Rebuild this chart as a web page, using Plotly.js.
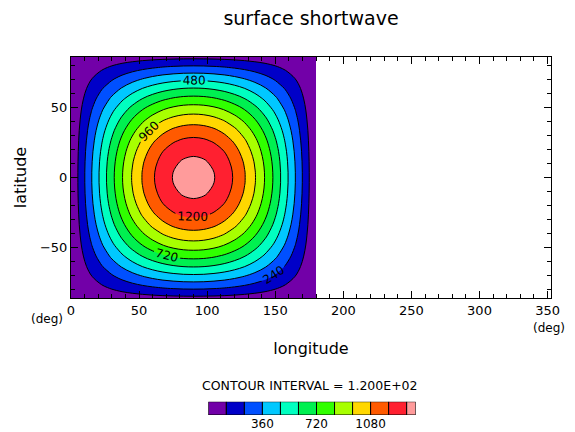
<!DOCTYPE html>
<html><head><meta charset="utf-8">
<script src="https://cdn.plot.ly/plotly-3.0.1.min.js"></script>
<style>html,body{margin:0;padding:0;background:#fff}#chart{width:575px;height:432px}</style>
</head><body><div id="chart"></div>
<script>
// Longitudes (deg) and latitudes (deg) of the data grid
const lon = [0,7.5,15,22.5,30,37.5,45,52.5,60,67.5,75,82.5,90,97.5,105,112.5,120,127.5,135,142.5,150,157.5,165,172.5,180];
const lat = [-86.25,-78.75,-71.25,-63.75,-56.25,-48.75,-41.25,-33.75,-26.25,-18.75,-11.25,-3.75,3.75,11.25,18.75,26.25,33.75,41.25,48.75,56.25,63.75,71.25,78.75,86.25];

// Surface shortwave (W/m2) rows, one per |latitude|
const r03 = [0,178,354,523,684,832,967,1085,1184,1263,1320,1355,1367,1355,1320,1263,1184,1085,967,832,684,523,354,178,0];
const r11 = [0,175,348,514,672,818,950,1066,1164,1241,1298,1332,1344,1332,1298,1241,1164,1066,950,818,672,514,348,175,0];
const r18 = [0,169,336,496,649,790,917,1029,1124,1199,1253,1286,1297,1286,1253,1199,1124,1029,917,790,649,496,336,169,0];
const r26 = [0,160,318,470,614,748,869,975,1064,1135,1187,1218,1229,1218,1187,1135,1064,975,869,748,614,470,318,160,0];
const r33 = [0,149,295,436,570,693,805,904,987,1052,1100,1129,1139,1129,1100,1052,987,904,805,693,570,436,295,149,0];
const r41 = [0,134,267,394,515,627,728,817,892,952,995,1021,1030,1021,995,952,892,817,728,627,515,394,267,134,0];
const r48 = [0,118,234,346,452,550,639,717,782,835,873,896,903,896,873,835,782,717,639,550,452,346,234,118,0];
const r56 = [0,99,197,291,381,463,538,604,659,703,735,755,761,755,735,703,659,604,538,463,381,291,197,99,0];
const r63 = [0,79,157,232,303,369,428,481,525,560,585,601,606,601,585,560,525,481,428,369,303,232,157,79,0];
const r71 = [0,57,114,169,220,268,311,349,381,407,425,437,440,437,425,407,381,349,311,268,220,169,114,57,0];
const r78 = [0,35,69,102,134,163,189,212,231,247,258,265,267,265,258,247,231,212,189,163,134,102,69,35,0];
const r86 = [0,12,23,34,45,55,63,71,78,83,87,89,90,89,87,83,78,71,63,55,45,34,23,12,0];
const swRows = [r86,r78,r71,r63,r56,r48,r41,r33,r26,r18,r11,r03,r03,r11,r18,r26,r33,r41,r48,r56,r63,r71,r78,r86];

// Contour levels and band colours
const levelStart = 120, levelEnd = 1320, levelStep = 120;
const labelStart = 240, labelEnd = 1200, labelStep = 240;
const bandColors = ['#7200a8','#0000c8','#0050ff','#00c8ff','#00ffc0','#00f050','#30ff00','#a8ff00','#ffd700','#ff5a00','#ff2030','#ff9b9b'];
const barEdges = [0,120,240,360,480,600,720,840,960,1080,1200,1320,1380];
const barTicks = [360,720,1080];
const xTicks = [0,50,100,150,200,250,300,350];
const yTicks = [-50,0,50];

const W = 575, H = 432;
const nb = bandColors.length - 1;
const cscale = bandColors.map((c, k) => [k / nb, c]);

const FONT = 'DejaVu Sans, sans-serif';

const fill = {
  type: 'contour', x: lon, y: lat, z: swRows,
  autocontour: false,
  contours: {start: levelStart, end: levelEnd, size: levelStep, coloring: 'fill', showlines: false},
  colorscale: cscale, showscale: false, line: {width: 0, smoothing: 1}, hoverinfo: 'skip'
};
const oddLines = {
  type: 'contour', x: lon, y: lat, z: swRows,
  autocontour: false,
  contours: {start: levelStart, end: levelEnd, size: labelStep, coloring: 'none'},
  line: {color: '#000', width: 1, smoothing: 1}, showscale: false, hoverinfo: 'skip'
};
const labelled = {
  type: 'contour', x: lon, y: lat, z: swRows,
  autocontour: false,
  contours: {start: labelStart, end: labelEnd, size: labelStep, coloring: 'none', showlabels: true,
             labelfont: {family: FONT, size: 12, color: '#000'}, labelformat: '.0f'},
  line: {color: '#000', width: 1, smoothing: 1}, showscale: false, hoverinfo: 'skip'
};

const centers = [], widths = [];
for (let i = 0; i < barEdges.length - 1; i++) {
  centers.push((barEdges[i] + barEdges[i + 1]) / 2);
  widths.push(barEdges[i + 1] - barEdges[i]);
}
const bar = {
  type: 'bar', x: centers, y: centers.map(() => 1), width: widths, base: 0,
  marker: {color: bandColors, line: {color: '#000', width: 1}},
  xaxis: 'x2', yaxis: 'y2', hoverinfo: 'skip', cliponaxis: false
};

const axCommon = {
  ticks: 'inside', ticklen: 7, tickwidth: 1, tickcolor: '#000',
  showline: true, linecolor: '#000', linewidth: 1, mirror: 'ticks',
  showgrid: false, zeroline: false,
  tickfont: {family: FONT, size: 13, color: '#000'},
  minor: {dtick: 10, ticks: 'inside', ticklen: 4, tickcolor: '#000', showgrid: false}
};

const layout = {
  width: W, height: H, margin: {l: 0, r: 0, t: 0, b: 0},
  paper_bgcolor: '#fff', plot_bgcolor: '#fff', showlegend: false,
  font: {family: FONT, color: '#000', size: 13},
  title: {text: 'surface shortwave', xref: 'container', yref: 'container', x: 311 / W, y: 1 - 18 / H,
          xanchor: 'center', yanchor: 'middle', font: {family: FONT, size: 19, color: '#000'}},
  xaxis: Object.assign({}, axCommon, {
    domain: [71 / W, 551 / W], range: [0, 352.5], tickvals: xTicks, anchor: 'y',
    title: {text: 'longitude', standoff: 26, font: {family: FONT, size: 16, color: '#000'}}
  }),
  yaxis: Object.assign({}, axCommon, {
    domain: [(H - 298) / H, (H - 57) / H], range: [-86.25, 86.25], tickvals: yTicks, anchor: 'x',
    title: {text: 'latitude', standoff: 9, font: {family: FONT, size: 16, color: '#000'}}
  }),
  xaxis2: {domain: [208.3 / W, 415.7 / W], range: [0, 1380], anchor: 'y2', tickvals: barTicks,
           ticks: '', showline: false, showgrid: false, zeroline: false,
           tickfont: {family: FONT, size: 12, color: '#000'}},
  yaxis2: {domain: [(H - 415) / H, (H - 401.7) / H], range: [0, 1], anchor: 'x2', visible: false, fixedrange: true},
  annotations: [
    {text: '(deg)', xref: 'paper', yref: 'paper', x: 47 / W, y: 1 - 319 / H, xanchor: 'center', yanchor: 'middle',
     showarrow: false, font: {family: FONT, size: 12, color: '#000'}},
    {text: '(deg)', xref: 'paper', yref: 'paper', x: 549 / W, y: 1 - 327.5 / H, xanchor: 'center', yanchor: 'middle',
     showarrow: false, font: {family: FONT, size: 12, color: '#000'}},
    {text: 'CONTOUR INTERVAL = 1.200E+02', xref: 'paper', yref: 'paper', x: 310 / W, y: 1 - 385 / H,
     xanchor: 'center', yanchor: 'middle', showarrow: false, font: {family: FONT, size: 12.5, color: '#000'}}
  ]
};

Plotly.newPlot('chart', [fill, oddLines, labelled, bar], layout, {staticPlot: true, displayModeBar: false});
</script>
</body></html>
